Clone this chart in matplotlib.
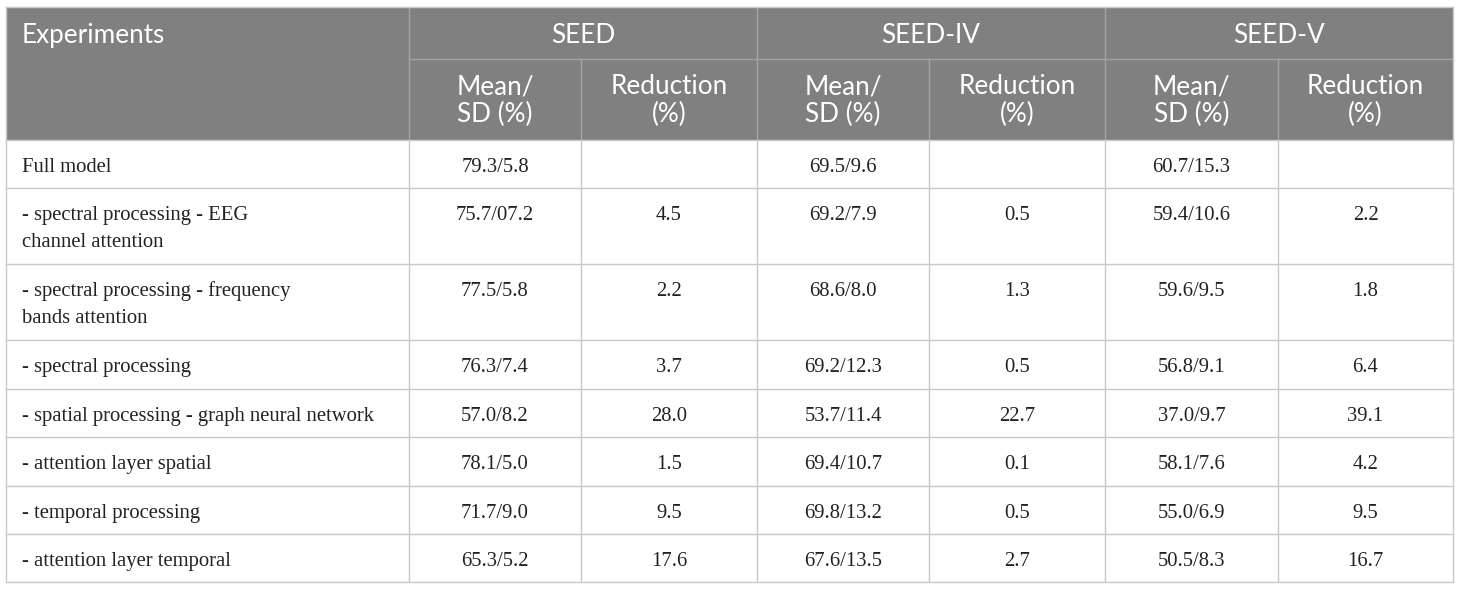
import matplotlib
matplotlib.use("Agg")
import matplotlib.pyplot as plt
from matplotlib.patches import Rectangle

# table content
experiments = [
    "Full model",
    "- spectral processing - EEG\nchannel attention",
    "- spectral processing - frequency\nbands attention",
    "- spectral processing",
    "- spatial processing - graph neural network",
    "- attention layer spatial",
    "- temporal processing",
    "- attention layer temporal",
]
datasets = ["SEED", "SEED-IV", "SEED-V"]
sub_headers = ["Mean/\nSD (%)", "Reduction\n(%)"]

seed_mean_sd = ["79.3/5.8", "75.7/07.2", "77.5/5.8", "76.3/7.4", "57.0/8.2", "78.1/5.0", "71.7/9.0", "65.3/5.2"]
seed_reduction = ["", "4.5", "2.2", "3.7", "28.0", "1.5", "9.5", "17.6"]
seed4_mean_sd = ["69.5/9.6", "69.2/7.9", "68.6/8.0", "69.2/12.3", "53.7/11.4", "69.4/10.7", "69.8/13.2", "67.6/13.5"]
seed4_reduction = ["", "0.5", "1.3", "0.5", "22.7", "0.1", "0.5", "2.7"]
seed5_mean_sd = ["60.7/15.3", "59.4/10.6", "59.6/9.5", "56.8/9.1", "37.0/9.7", "58.1/7.6", "55.0/6.9", "50.5/8.3"]
seed5_reduction = ["", "2.2", "1.8", "6.4", "39.1", "4.2", "9.5", "16.7"]

columns = [seed_mean_sd, seed_reduction, seed4_mean_sd, seed4_reduction, seed5_mean_sd, seed5_reduction]

# layout in pixels
col_edges = [6, 409, 581, 757, 929, 1105, 1278, 1453]
head_top, head_mid, head_bot = 7, 59, 140
row_edges = [140, 188, 264, 340, 389, 437, 486, 534, 582]

HEAD_BG = "#7f807f"
HEAD_LINE = "#a3a4a3"
GRID = "#c9c9c9"
TEXT = "#222222"
head_font = "Lato"
body_font = "Liberation Serif"
HEAD_SIZE = 18.8
BODY_SIZE = 14.9


def put_lines(x, y0, text, step, ha, **kw):
    # one text per line so line spacing is exact in pixels
    for i, line in enumerate(text.split("\n")):
        ax.text(x, y0 + i * step, line, ha=ha, va="baseline", **kw)


fig = plt.figure(figsize=(14.6, 5.9), dpi=100)
ax = fig.add_axes([0, 0, 1, 1])
ax.set_xlim(0, 1460)
ax.set_ylim(590, 0)
ax.axis("off")

# header background
ax.add_patch(Rectangle((col_edges[0], head_top), col_edges[-1] - col_edges[0],
                       head_bot - head_top, facecolor=HEAD_BG, edgecolor="none"))

# header lines
ax.plot([col_edges[1], col_edges[-1]], [head_mid, head_mid], color=HEAD_LINE, lw=1)
for i in (1, 3, 5):
    ax.plot([col_edges[i], col_edges[i]], [head_top, head_bot], color=HEAD_LINE, lw=1)
for i in (2, 4, 6):
    ax.plot([col_edges[i], col_edges[i]], [head_mid, head_bot], color=HEAD_LINE, lw=1)

# header texts
hkw = dict(color="white", fontsize=HEAD_SIZE, family=head_font)
put_lines(22, 43, "Experiments", 0, "left", **hkw)
for k, name in enumerate(datasets):
    xc = (col_edges[1 + 2 * k] + col_edges[3 + 2 * k]) / 2
    put_lines(xc, 43, name, 0, "center", **hkw)
    for j, sh in enumerate(sub_headers):
        x0, x1 = col_edges[1 + 2 * k + j], col_edges[2 + 2 * k + j]
        put_lines((x0 + x1) / 2, 94, sh, 28, "center", **hkw)

# body grid
for y in row_edges:
    ax.plot([col_edges[0], col_edges[-1]], [y, y], color=GRID, lw=1)
for x in col_edges:
    ax.plot([x, x], [head_bot, row_edges[-1]], color=GRID, lw=1)
ax.plot([col_edges[0], col_edges[-1]], [head_top, head_top], color=GRID, lw=1)
ax.plot([col_edges[0], col_edges[0]], [head_top, head_bot], color=GRID, lw=1)
ax.plot([col_edges[-1], col_edges[-1]], [head_top, head_bot], color=GRID, lw=1)

# body texts
bkw = dict(color=TEXT, fontsize=BODY_SIZE, family=body_font)
for r, label in enumerate(experiments):
    base = row_edges[r] + 32
    put_lines(22, base, label, 27, "left", **bkw)
    for c, col in enumerate(columns):
        xc = (col_edges[c + 1] + col_edges[c + 2]) / 2
        put_lines(xc, base, col[r], 27, "center", **bkw)

fig.savefig("out.png", dpi=100, facecolor="white")
